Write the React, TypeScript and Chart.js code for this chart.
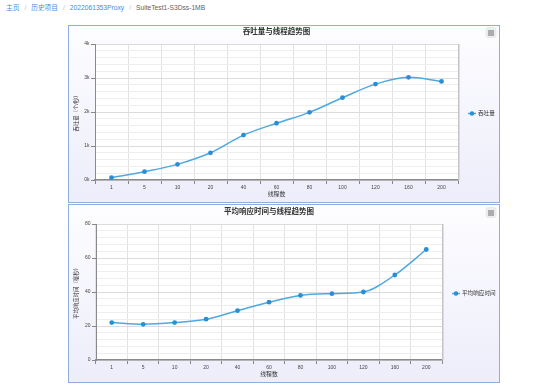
import React, { useEffect, useRef } from 'react';
import { Chart, registerables } from 'chart.js';

Chart.register(...registerables);

const threadCategories = ['1', '5', '10', '20', '40', '60', '80', '100', '120', '160', '200'];
const throughputValues = [70, 245, 460, 800, 1320, 1670, 1990, 2420, 2820, 3020, 2900];
const responseTimeValues = [22, 21, 22, 24, 29, 34, 38, 39, 40, 50, 65];
const throughputTickLabels = ['0k', '1k', '2k', '3k', '4k'];
const responseTickLabels = ['0', '20', '40', '60', '80'];
const breadcrumbItems = ['主页', '历史项目', '2022061353Proxy', 'SuiteTest1-S3Dss-1MB'];

const FONT = '"Liberation Sans", "Noto Sans CJK SC", sans-serif';
const LINE_COLOR = '#4ea9e0';
const POINT_COLOR = '#2a8ed4';

type ChartProps = {
  title: string;
  legend: string;
  yTitle: string;
  values: number[];
  tickLabels: string[];
  yMax: number;
  majorStep: number;
  minorStep: number;
  yWidth: number;
  padTop: number;
  padRight: number;
  titleY: number;
  width: number;
  height: number;
};

function makeDecor(p: ChartProps) {
  return {
    id: 'decor',
    beforeDraw(chart: any) {
      const { ctx, chartArea: a } = chart;
      ctx.save();
      ctx.fillStyle = '#ffffff';
      ctx.fillRect(a.left, a.top, a.right - a.left, a.bottom - a.top);
      ctx.restore();
    },
    afterDraw(chart: any) {
      const { ctx, chartArea: a, width } = chart;
      ctx.save();
      // title
      ctx.font = `bold 7.5px ${FONT}`;
      ctx.fillStyle = '#333333';
      ctx.textAlign = 'center';
      ctx.textBaseline = 'middle';
      ctx.fillText(p.title, (a.left + a.right) / 2, p.titleY);
      // plot right edge
      ctx.strokeStyle = '#c4c4c4';
      ctx.lineWidth = 1.5;
      ctx.beginPath();
      ctx.moveTo(a.right + 0.75, a.top);
      ctx.lineTo(a.right + 0.75, a.bottom);
      ctx.stroke();
      // legend
      const ly = (a.top + a.bottom) / 2 + 1.5;
      const lx = a.right + 10;
      ctx.strokeStyle = LINE_COLOR;
      ctx.lineWidth = 1.5;
      ctx.beginPath();
      ctx.moveTo(lx, ly);
      ctx.lineTo(lx + 8, ly);
      ctx.stroke();
      ctx.fillStyle = POINT_COLOR;
      ctx.beginPath();
      ctx.arc(lx + 4, ly, 2.2, 0, Math.PI * 2);
      ctx.fill();
      ctx.font = `5.6px ${FONT}`;
      ctx.fillStyle = '#333333';
      ctx.textAlign = 'left';
      ctx.fillText(p.legend, lx + 10, ly);
      // menu button
      const bx = width - 13;
      const by = p.titleY - 4.5;
      ctx.fillStyle = '#ededf0';
      ctx.strokeStyle = '#dedee2';
      ctx.lineWidth = 0.5;
      ctx.beginPath();
      (ctx as any).roundRect(bx, by, 10, 10, 2);
      ctx.fill();
      ctx.stroke();
      ctx.strokeStyle = '#6a6a6a';
      ctx.lineWidth = 1;
      for (let i = 0; i < 3; i++) {
        const yy = by + 3 + i * 2 + 0.5;
        ctx.beginPath();
        ctx.moveTo(bx + 2, yy);
        ctx.lineTo(bx + 8, yy);
        ctx.stroke();
      }
      ctx.restore();
    },
  };
}

function TrendChart(p: ChartProps) {
  const ref = useRef<HTMLCanvasElement | null>(null);
  useEffect(() => {
    if (!ref.current) return;
    const chart = new Chart(ref.current, {
      type: 'line',
      data: {
        labels: threadCategories,
        datasets: [
          {
            label: p.legend,
            data: p.values,
            borderColor: LINE_COLOR,
            borderWidth: 1.5,
            pointBackgroundColor: POINT_COLOR,
            pointBorderColor: POINT_COLOR,
            pointBorderWidth: 0,
            pointRadius: 2.4,
            cubicInterpolationMode: 'monotone',
            fill: false,
          },
        ],
      },
      options: {
        animation: false,
        responsive: false,
        devicePixelRatio: 1,
        layout: { padding: { top: p.padTop, right: p.padRight, left: 0, bottom: 0 } },
        plugins: {
          legend: { display: false },
          title: { display: false },
          tooltip: { enabled: false },
        },
        scales: {
          x: {
            offset: true,
            grid: {
              offset: true,
              color: '#e2e2e2',
              tickLength: 4,
              tickColor: '#888888',
            },
            border: { color: '#8a8a8a', width: 1.5 },
            ticks: {
              font: { size: 5, family: FONT },
              color: '#444444',
              padding: 1,
              maxRotation: 0,
              autoSkip: false,
            },
            title: {
              display: true,
              text: '线程数',
              font: { size: 5.8, family: FONT },
              color: '#333333',
              padding: { top: 0, bottom: 4.4 },
            },
            afterFit: (s: any) => {
              s.height = 22;
            },
          },
          y: {
            min: 0,
            max: p.yMax,
            ticks: {
              stepSize: p.minorStep,
              autoSkip: false,
              font: { size: 5, family: FONT },
              color: '#444444',
              padding: 1.5,
              callback: (v: any) => {
                const n = Number(v);
                return n % p.majorStep === 0 ? p.tickLabels[Math.round(n / p.majorStep)] : '';
              },
            },
            grid: {
              color: (c: any) => (c.tick && c.tick.value % p.majorStep === 0 ? '#dcdcdc' : '#eeeeee'),
              tickLength: 4,
              tickColor: (c: any) => (c.tick && c.tick.value % p.majorStep === 0 ? '#888888' : 'rgba(0,0,0,0)'),
            },
            border: { color: '#8a8a8a', width: 1 },
            title: {
              display: true,
              text: p.yTitle,
              font: { size: 5.4, family: FONT },
              color: '#333333',
              padding: { top: 4.4, bottom: 0 },
            },
            afterFit: (s: any) => {
              s.width = p.yWidth;
            },
          },
        },
      },
      plugins: [makeDecor(p) as any],
    });
    return () => chart.destroy();
  }, []);
  return <canvas ref={ref} width={p.width} height={p.height} style={{ display: 'block', width: p.width, height: p.height }} />;
}

const panelStyle = (top: number, h: number): React.CSSProperties => ({
  position: 'absolute',
  left: 68,
  top,
  width: 430,
  height: h,
  border: '1px solid #8eaedb',
  background: 'linear-gradient(#fdfdff, #ededfb)',
});

export default function App() {
  return (
    <div style={{ position: 'absolute', left: 0, top: 0, width: 550, height: 388, background: '#ffffff', overflow: 'hidden' }}>
      <div
        style={{
          position: 'absolute',
          left: 6,
          top: 2,
          fontFamily: FONT,
          fontSize: 6.7,
          lineHeight: '12px',
          whiteSpace: 'nowrap',
        }}
      >
        {breadcrumbItems.map((it, i) => (
          <span key={i}>
            {i > 0 && <span style={{ color: '#c0c4cc', margin: '0 5px' }}>/</span>}
            <span style={{ color: i === breadcrumbItems.length - 1 ? '#606266' : '#3a8ee6' }}>{it}</span>
          </span>
        ))}
      </div>
      <div style={panelStyle(25, 176)}>
        <TrendChart
          title="吞吐量与线程趋势图"
          legend="吞吐量"
          yTitle="吞吐量（个/秒）"
          values={throughputValues}
          tickLabels={throughputTickLabels}
          yMax={4000}
          majorStep={1000}
          minorStep={200}
          yWidth={26}
          padTop={18}
          padRight={41}
          titleY={6}
          width={430}
          height={176}
        />
      </div>
      <div style={panelStyle(204, 177)}>
        <TrendChart
          title="平均响应时间与线程趋势图"
          legend="平均响应时间"
          yTitle="平均响应时间（毫秒）"
          values={responseTimeValues}
          tickLabels={responseTickLabels}
          yMax={80}
          majorStep={20}
          minorStep={4}
          yWidth={27}
          padTop={19}
          padRight={57}
          titleY={7}
          width={430}
          height={177}
        />
      </div>
    </div>
  );
}
